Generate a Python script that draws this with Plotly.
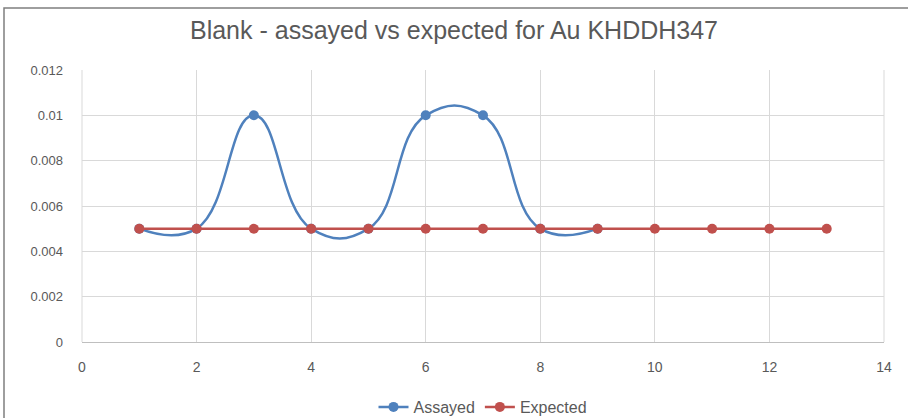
import plotly.graph_objects as go

assayed_x = [1, 2, 3, 4, 5, 6, 7, 8, 9]
assayed_y = [0.005, 0.005, 0.01, 0.005, 0.005, 0.01, 0.01, 0.005, 0.005]
expected_x = [1, 2, 3, 4, 5, 6, 7, 8, 9, 10, 11, 12, 13]
expected_y = [0.005] * 13

title = "Blank - assayed vs expected for Au KHDDH347"
FONT = "Liberation Sans, Arial"
GRAY = "#595959"

fig = go.Figure()
fig.add_trace(go.Scatter(
    x=assayed_x, y=assayed_y, name="Assayed", mode="lines+markers",
    line=dict(color="#4f81bd", width=2.5, shape="spline", smoothing=1.3),
    marker=dict(color="#4f81bd", size=10),
))
fig.add_trace(go.Scatter(
    x=expected_x, y=expected_y, name="Expected", mode="lines+markers",
    line=dict(color="#c0504d", width=2.5),
    marker=dict(color="#c0504d", size=10),
))

W, H = 908, 418
L, R, T, B = 82, 24, 70, 76
pw, ph = W - L - R, H - T - B

fig.update_layout(
    width=W, height=H,
    margin=dict(l=L, r=R, t=T, b=B, autoexpand=False),
    paper_bgcolor="white", plot_bgcolor="white",
    font=dict(family=FONT, color=GRAY, size=13),
    title=dict(text=title, x=0.5, xanchor="center", y=1 - 30 / H, yanchor="middle",
               font=dict(size=25, color=GRAY, family=FONT)),
    showlegend=True,
    legend=dict(orientation="h", x=0.5, xanchor="center", yref="container",
                y=1 - 407 / H, yanchor="middle",
                font=dict(size=16, color=GRAY, family=FONT),
                bgcolor="rgba(0,0,0,0)"),
    xaxis=dict(range=[0, 14], dtick=2, tick0=0, showgrid=True, gridcolor="#d9d9d9",
               gridwidth=1, zeroline=False, showline=True, linecolor="#bfbfbf",
               linewidth=1, ticks="", tickfont=dict(size=14, color=GRAY),
               ticklabelstandoff=12, automargin=False),
    yaxis=dict(range=[0, 0.012], dtick=0.002, tick0=0, showgrid=True, gridcolor="#d9d9d9",
               gridwidth=1, zeroline=False, showline=False, ticks="",
               tickfont=dict(size=13, color=GRAY), ticklabelstandoff=18,
               tickformat="~g", automargin=False),
    shapes=[
        dict(type="line", xref="paper", yref="paper", x0=0, x1=0, y0=0, y1=1,
             line=dict(color="#d9d9d9", width=1), layer="below"),
        dict(type="line", xref="paper", yref="paper", x0=1, x1=1, y0=0, y1=1,
             line=dict(color="#d9d9d9", width=1), layer="below"),
        dict(type="rect", xref="paper", yref="paper",
             x0=(4 - L) / pw, x1=(W + 20 - L) / pw,
             y0=-(H + 20 - (T + ph)) / ph, y1=(T + ph - 8) / ph,
             line=dict(color="#7f7f7f", width=1.5), fillcolor="rgba(0,0,0,0)"),
    ],
)

fig.write_html("out.html", config={"displayModeBar": False},
               post_script="document.body.style.margin='0';")
